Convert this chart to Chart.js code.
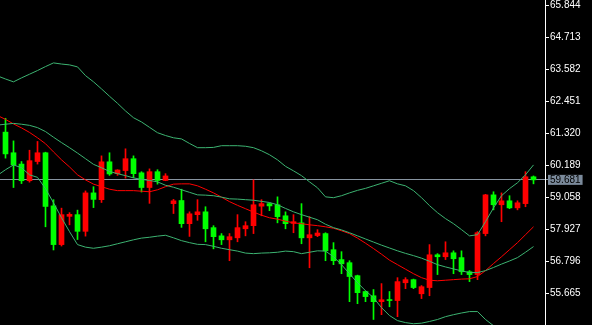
<!DOCTYPE html>
<html><head><meta charset="utf-8">
<script src="https://cdn.jsdelivr.net/npm/chart.js@4/dist/chart.umd.min.js"></script>
<style>html,body{margin:0;padding:0;background:#000;overflow:hidden}canvas{display:block}</style>
</head><body>
<canvas id="c" width="592" height="325"></canvas>
<script>
// Candle values (index = bar number, oldest first)
const openP  = [61.37,60.64,60.24,59.65,60.33,60.64,58.76,57.39,58.39,58.45,57.86,59.22,58.98,60.32,59.90,60.01,60.43,59.93,59.41,59.97,59.66,58.84,58.95,58.13,58.45,58.55,57.99,57.70,57.56,57.63,57.95,58.06,58.75,58.84,58.80,58.41,58.14,58.16,57.63,57.71,57.78,57.21,56.86,56.75,56.29,55.73,55.58,55.37,55.44,55.41,56.04,56.15,55.65,55.87,57.03,56.96,57.10,56.93,56.43,56.33,57.78,59.15,58.80,58.94,58.69,58.84,59.79];
const highP  = [61.86,61.06,60.33,60.73,61.04,60.66,58.98,58.68,58.52,58.61,59.29,59.44,60.53,60.64,60.04,60.78,60.53,59.97,60.07,60.04,59.90,58.99,59.35,58.55,58.98,58.73,58.06,57.78,57.78,58.45,58.20,59.68,58.98,58.86,59.08,58.55,58.45,58.84,58.38,57.92,57.81,57.46,57.14,56.82,56.31,55.75,55.80,56.01,55.73,56.22,56.22,56.17,55.94,57.39,57.07,57.49,57.17,57.17,56.47,57.85,59.17,59.26,59.22,59.12,58.94,59.97,59.82];
const lowP   = [60.45,59.41,59.55,59.60,60.24,58.02,57.20,57.34,58.09,57.57,57.69,58.70,58.88,59.84,59.84,59.74,59.76,59.25,58.85,59.53,59.65,58.49,58.00,57.68,58.25,57.49,57.24,57.39,56.82,57.49,57.70,57.78,58.41,58.59,58.16,57.95,57.81,57.42,56.57,57.67,56.82,56.68,56.36,55.37,55.30,55.37,54.74,54.91,55.19,54.84,55.83,55.83,55.48,55.58,56.33,56.86,56.36,56.33,56.08,56.15,57.70,58.62,58.20,58.66,58.62,58.73,59.54];
const closeP = [60.60,60.21,59.65,60.36,60.64,58.74,57.39,58.45,58.46,57.86,59.22,58.99,60.32,59.89,60.03,60.43,59.90,59.41,59.97,59.66,59.82,58.94,58.13,58.48,58.55,57.95,57.67,57.56,57.67,57.99,58.06,58.80,58.84,58.76,58.38,58.13,58.20,57.63,57.74,57.80,57.17,56.82,56.71,56.26,55.69,55.55,55.37,55.44,55.41,56.08,56.15,55.87,55.90,57.03,56.96,57.10,56.89,56.43,56.33,57.81,59.15,58.80,58.94,58.69,58.87,59.79,59.681];

// Indicator values read per bar; the first value belongs to the bar just left of the visible area
const lineStartIndex = -1;
const bandUpper  = [63.36,63.25,63.15,63.29,63.42,63.55,63.69,63.82,63.78,63.75,63.68,63.37,63.15,62.90,62.64,62.39,62.12,61.88,61.73,61.54,61.35,61.25,61.17,61.13,60.97,60.82,60.82,60.83,60.89,60.89,60.89,60.87,60.82,60.71,60.57,60.39,60.16,60.00,59.83,59.61,59.40,59.08,59.05,59.12,59.22,59.31,59.38,59.47,59.56,59.65,59.54,59.47,59.30,59.05,58.77,58.52,58.31,58.13,57.92,57.70,57.74,58.20,58.69,59.12,59.37,59.58,59.86,60.21];
const bandMiddle = [61.62,61.65,61.68,61.65,61.61,61.53,61.39,61.19,61.00,60.82,60.63,60.43,60.23,60.11,59.98,59.90,59.83,59.75,59.70,59.66,59.61,59.49,59.42,59.33,59.24,59.15,59.14,59.12,59.07,59.01,59.00,58.98,58.96,58.92,58.88,58.80,58.67,58.55,58.45,58.36,58.27,58.11,57.99,57.91,57.81,57.70,57.59,57.48,57.37,57.27,57.17,57.08,57.00,56.91,56.80,56.68,56.60,56.53,56.46,56.40,56.40,56.47,56.58,56.70,56.81,56.93,57.12,57.32];
const bandLower  = [59.84,60.04,60.21,60.11,59.86,59.77,59.37,58.87,58.34,57.85,57.39,57.30,57.26,57.30,57.35,57.42,57.49,57.56,57.62,57.65,57.69,57.72,57.63,57.53,57.46,57.40,57.39,57.33,57.26,57.21,57.16,57.09,57.07,57.09,57.10,57.12,57.16,57.14,57.07,57.12,57.17,57.16,56.96,56.68,56.36,56.04,55.76,55.51,55.16,54.88,54.70,54.63,54.59,54.61,54.67,54.74,54.84,54.91,54.97,55.02,55.02,54.74,54.52,54.35,54.24,54.14,54.03,53.92];
const maRed      = [61.96,61.82,61.66,61.52,61.36,61.17,60.96,60.67,60.39,60.14,59.86,59.68,59.53,59.44,59.35,59.30,59.30,59.30,59.28,59.26,59.33,59.44,59.53,59.54,59.54,59.47,59.35,59.22,59.07,58.91,58.78,58.66,58.54,58.43,58.34,58.29,58.22,58.16,58.13,58.09,58.06,58.02,57.97,57.88,57.78,57.62,57.44,57.25,57.05,56.84,56.68,56.52,56.36,56.22,56.13,56.11,56.13,56.15,56.17,56.18,56.26,56.47,56.72,56.96,57.21,57.46,57.74,58.02];

// Axis tick labels
const yTickValues = [55.665,56.796,57.927,59.058,60.189,61.320,62.451,63.582,64.713,65.844];
const lastPrice = 59.681;

const UP = '#ff0000', DOWN = '#00ff00', BAND = '#3cb371', PRICE_LINE = '#8794a1';
const candleColors = openP.map((o, i) => closeP[i] >= o ? UP : DOWN);
const linePts = arr => arr.map((v, i) => ({x: i + lineStartIndex, y: v}));

Chart.defaults.font.family = "'Liberation Sans', Arial, sans-serif";

const lineDs = (data, color) => ({
  type: 'line', data: linePts(data), borderColor: color, borderWidth: 1,
  pointRadius: 0, tension: 0, fill: false, order: 0
});

new Chart(document.getElementById('c'), {
  type: 'bar',
  data: {
    datasets: [
      lineDs(bandUpper, BAND),
      lineDs(bandMiddle, BAND),
      lineDs(bandLower, BAND),
      lineDs(maRed, '#ff0000'),
      { type: 'bar', data: openP.map((o, i) => ({x: i, y: [o, closeP[i]]})),
        backgroundColor: candleColors, borderWidth: 0, barThickness: 5,
        minBarLength: 1, grouped: false, order: 1 },
      { type: 'bar', data: lowP.map((l, i) => ({x: i, y: [l, highP[i]]})),
        backgroundColor: candleColors, borderWidth: 0, barThickness: 1,
        grouped: false, order: 2 }
    ]
  },
  options: {
    responsive: false, animation: false, devicePixelRatio: 1,
    layout: { padding: 0 },
    plugins: { legend: { display: false }, tooltip: { enabled: false } },
    scales: {
      x: { type: 'linear', display: false, min: -0.6875, max: 67.4375, offset: false },
      y: {
        position: 'right', min: 54.545, max: 66.046, bounds: 'data',
        afterBuildTicks: s => { s.ticks = yTickValues.concat([lastPrice]).map(v => ({value: v})); },
        afterFit: s => { s.width = 47; s.paddingTop = 0; s.paddingBottom = 0; },
        border: { display: true, color: '#ffffff', width: 1 },
        grid: {
          drawOnChartArea: true, drawTicks: true, tickLength: 4, lineWidth: 1,
          color: c => (c.tick && c.tick.value === lastPrice) ? PRICE_LINE : 'rgba(0,0,0,0)',
          tickColor: c => (c.tick && c.tick.value === lastPrice) ? PRICE_LINE : '#ffffff'
        },
        ticks: {
          autoSkip: false, padding: 1,
          font: { size: 10, lineHeight: 1 },
          color: c => (c.tick && c.tick.value === lastPrice) ? '#000000' : '#ffffff',
          showLabelBackdrop: c => !!(c.tick && c.tick.value === lastPrice),
          backdropColor: '#7b8a9b',
          backdropPadding: { left: 2, right: 2, top: 0, bottom: 0 },
          callback: v => Number(v).toFixed(3)
        }
      }
    }
  }
});
</script>
</body></html>
